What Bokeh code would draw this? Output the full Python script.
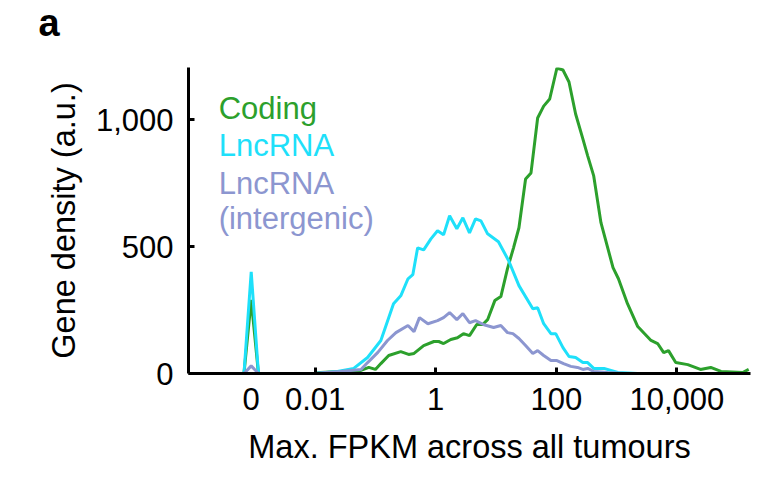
from bokeh.plotting import figure
from bokeh.models import Range1d, FixedTicker, NumeralTickFormatter, Label, Title
from bokeh.embed import file_html
from bokeh.resources import INLINE

# ---- data (x = log10 of max FPKM; genes with FPKM 0 are drawn at the "0" slot) ----
zero_slot = -3.06
zero_halfwidth = 0.12

coding_x = [-2.02, -1.91, -1.24, -1.11, -1.00, -0.91, -0.78, -0.58, -0.45, -0.36, -0.20, -0.03,
            0.05, 0.13, 0.25, 0.36, 0.46, 0.56, 0.68, 0.78, 0.86, 0.98, 1.08, 1.19, 1.29, 1.38,
            1.49, 1.58, 1.69, 1.79, 1.89, 2.01, 2.11, 2.21, 2.32, 2.44, 2.52, 2.62, 2.74, 2.94,
            3.03, 3.18, 3.35, 3.57, 3.68, 3.78, 3.86, 3.98, 4.18, 4.39, 4.56, 4.73, 5.09, 5.19]
coding_y = [0, 4, 12, 24, 16, 39, 71, 86, 75, 79, 110, 126,
            126, 118, 134, 141, 157, 149, 193, 193, 212, 287, 303, 413, 495, 574,
            766, 790, 1006, 1053, 1081, 1203, 1195, 1148, 1022, 924, 857, 778, 594, 417,
            373, 275, 185, 130, 118, 82, 90, 43, 35, 16, 24, 8, 4, 16]
coding_zero = 290

lnc_x = [-2.02, -1.63, -1.36, -1.13, -0.91, -0.70, -0.58, -0.46, -0.38, -0.30, -0.20, -0.08,
         0.03, 0.13, 0.23, 0.35, 0.45, 0.56, 0.66, 0.75, 0.86, 1.04, 1.21, 1.38, 1.61, 1.69,
         1.79, 1.91, 1.99, 2.11, 2.21, 2.32, 2.44, 2.52, 2.62, 2.79, 3.02, 3.35]
lnc_y = [0, 8, 20, 63, 130, 275, 306, 373, 389, 495, 487, 530,
         562, 546, 621, 570, 613, 554, 609, 601, 550, 519, 444, 346, 255, 259,
         196, 157, 157, 102, 67, 63, 43, 43, 20, 20, 4, 0]
lnc_zero = 400

inter_x = [-2.02, -1.58, -1.24, -1.13, -0.96, -0.80, -0.66, -0.46, -0.36, -0.27, -0.13, 0.03,
           0.13, 0.23, 0.35, 0.45, 0.56, 0.66, 0.80, 0.96, 1.08, 1.19, 1.28, 1.38, 1.49, 1.61,
           1.69, 1.79, 1.91, 2.01, 2.12, 2.24, 2.35, 2.44, 2.52, 2.62, 2.85, 3.12]
inter_y = [0, 8, 16, 43, 83, 130, 161, 189, 165, 220, 196, 208,
           220, 240, 212, 236, 200, 208, 192, 181, 189, 161, 157, 138, 110, 79,
           90, 71, 51, 51, 39, 28, 24, 16, 20, 8, 4, 0]
inter_zero = 30

x_tick_pos = [zero_slot, -2, 0, 2, 4]
x_tick_labels = ["0", "0.01", "1", "100", "10,000"]
y_ticks = [0, 500, 1000]

colors = ["#2ca02c", "#1ee0fa", "#8c96d0"]

FONT = "Liberation Sans"

p = figure(width=764, height=484, output_backend="svg", toolbar_location=None,
           x_range=Range1d(-4.1, 5.22), y_range=Range1d(0, 1205),
           min_border_left=188, min_border_right=14, min_border_top=67, min_border_bottom=111)
p.outline_line_color = None
p.xgrid.visible = False
p.ygrid.visible = False

# panel letter as the main title (outermost), with a spacer title next to the frame
p.title.text = "a"
p.title.text_font = FONT
p.title.text_font_size = "38px"
p.title.text_font_style = "bold"
p.title.text_color = "black"
p.title.align = "left"
p.title.offset = -150
p.title.standoff = -6
p.title.vertical_align = "bottom"
p.add_layout(Title(text=" ", text_font_size="1px", standoff=24), "above")

for xs, ys, z, c in [(coding_x, coding_y, coding_zero, colors[0]),
                     (lnc_x, lnc_y, lnc_zero, colors[1]),
                     (inter_x, inter_y, inter_zero, colors[2])]:
    p.line(xs, ys, line_color=c, line_width=3)
    p.line([zero_slot - zero_halfwidth, zero_slot, zero_slot + zero_halfwidth], [0, z, 0],
           line_color=c, line_width=3)

# axes
for ax in (p.xaxis[0], p.yaxis[0]):
    ax.axis_line_width = 3
    ax.axis_line_color = "black"
    ax.major_label_text_font = FONT
    ax.major_label_text_font_size = "31px"
    ax.major_label_text_color = "black"
    ax.axis_label_text_font = FONT
    ax.axis_label_text_font_size = "32.5px"
    ax.axis_label_text_font_style = "normal"
    ax.axis_label_text_color = "black"

xa = p.xaxis[0]
xa.ticker = FixedTicker(ticks=x_tick_pos, minor_ticks=x_tick_pos[1:])
xa.major_label_overrides = {t: l for t, l in zip(x_tick_pos, x_tick_labels)}
xa.major_tick_line_color = None
xa.minor_tick_line_color = "black"
xa.minor_tick_line_width = 3
xa.minor_tick_in = 6
xa.minor_tick_out = 0
xa.major_label_standoff = 8
xa.axis_label = "Max. FPKM across all tumours"
xa.axis_label_standoff = 16

ya = p.yaxis[0]
ya.ticker = FixedTicker(ticks=y_ticks, minor_ticks=[])
ya.formatter = NumeralTickFormatter(format="0,0")
ya.major_tick_line_width = 3
ya.major_tick_in = 6
ya.major_tick_out = 0
ya.minor_tick_line_color = None
ya.major_label_standoff = 15
ya.axis_label = "Gene density (a.u.)"
ya.axis_label_standoff = 11

# series labels (text-only legend)
label_lines = [("Coding", colors[0], 1045), ("LncRNA", colors[1], 896),
               ("LncRNA", colors[2], 750), ("(intergenic)", colors[2], 609)]
for txt, c, yv in label_lines:
    p.add_layout(Label(x=-3.60, y=yv, text=txt, text_color=c, text_font=FONT,
                       text_font_size="31px", text_baseline="alphabetic", text_align="left"))

open("out.html", "w").write(file_html(p, INLINE))
